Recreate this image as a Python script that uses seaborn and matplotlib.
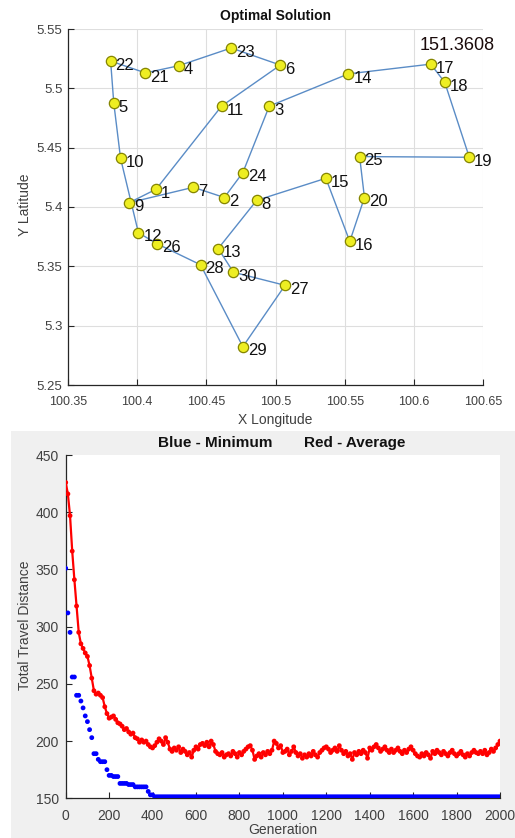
import matplotlib
matplotlib.use("Agg")
import matplotlib.pyplot as plt
from matplotlib.patches import Rectangle
import seaborn as sns
import pandas as pd

# ---------------- data: cities (index = city number 1..30) ----------------
city_ids = list(range(1, 31))
city_lon = [100.4137, 100.4630, 100.4955, 100.4299, 100.3831, 100.5035, 100.4406, 100.4864,
            100.3942, 100.3880, 100.4610, 100.4009, 100.4586, 100.5527, 100.5364, 100.5537,
            100.6122, 100.6223, 100.6401, 100.5643, 100.4060, 100.3808, 100.4680, 100.4764,
            100.5608, 100.4144, 100.5069, 100.4458, 100.4764, 100.4696]
city_lat = [5.4150, 5.4080, 5.4850, 5.5190, 5.4875, 5.5196, 5.4166, 5.4056,
            5.4036, 5.4410, 5.4850, 5.3783, 5.3650, 5.5122, 5.4242, 5.3710,
            5.5204, 5.5052, 5.4419, 5.4080, 5.5130, 5.5230, 5.5340, 5.4290,
            5.4425, 5.3690, 5.3340, 5.3513, 5.2823, 5.3450]
tour_order = [22, 21, 4, 23, 6, 11, 1, 9, 7, 2, 24, 3, 14, 17, 18, 19, 25, 20, 16, 15,
              8, 13, 30, 27, 29, 28, 26, 12, 10, 5, 22]
best_distance_label = "151.3608"

x_ticks = [100.35, 100.4, 100.45, 100.5, 100.55, 100.6, 100.65]
x_tick_labels = ["100.35", "100.4", "100.45", "100.5", "100.55", "100.6", "100.65"]
y_ticks = [5.25, 5.3, 5.35, 5.4, 5.45, 5.5, 5.55]
y_tick_labels = ["5.25", "5.3", "5.35", "5.4", "5.45", "5.5", "5.55"]

# ---------------- data: convergence (every 10 generations) ----------------
generations = list(range(0, 2001, 10))
avg_distance = [
    426, 416, 397, 366, 341, 318, 295, 285, 281, 277,
    274, 266, 255, 244, 241, 242, 240, 238, 230, 224,
    220, 221, 222, 219, 216, 215, 213, 210, 211, 208,
    206, 207, 203, 202, 199, 201, 199, 200, 197, 195,
    194, 196, 199, 202, 200, 197, 203, 199, 193, 191,
    194, 192, 195, 190, 193, 191, 188, 190, 186, 192,
    195, 193, 197, 198, 196, 199, 195, 200, 197, 191,
    189, 188, 190, 186, 188, 189, 187, 191, 189, 186,
    190, 188, 191, 193, 195, 196, 192, 184, 187, 189,
    186, 190, 188, 191, 189, 192, 200, 198, 194, 196,
    190, 191, 193, 188, 191, 195, 190, 187, 189, 185,
    188, 186, 189, 187, 191, 188, 186, 190, 192, 194,
    195, 193, 190, 192, 194, 191, 196, 192, 189, 191,
    187, 189, 184, 190, 188, 191, 189, 192, 190, 185,
    194, 192, 195, 197, 194, 191, 193, 195, 192, 190,
    193, 190, 192, 194, 191, 189, 192, 190, 193, 195,
    192, 189, 187, 186, 189, 187, 190, 188, 185, 191,
    189, 192, 190, 188, 191, 189, 187, 190, 192, 189,
    187, 189, 191, 188, 186, 189, 187, 190, 192, 190,
    189, 191, 189, 192, 188, 190, 193, 191, 194, 197,
    200]
min_distance = [
    351, 312, 295, 256, 256, 240, 240, 235, 229, 222,
    217, 210, 203, 189, 189, 184, 182, 182, 182, 175,
    170, 170, 169, 169, 169, 163, 163, 163, 163, 162,
    162, 162, 160, 160, 160, 160, 160, 160, 156, 153,
    153, 151.36, 151.36, 151.36, 151.36, 151.36, 151.36, 151.36, 151.36, 151.36,
    151.36, 151.36, 151.36, 151.36, 151.36, 151.36, 151.36, 151.36, 151.36, 151.36,
    151.36, 151.36, 151.36, 151.36, 151.36, 151.36, 151.36, 151.36, 151.36, 151.36,
    151.36, 151.36, 151.36, 151.36, 151.36, 151.36, 151.36, 151.36, 151.36, 151.36,
    151.36, 151.36, 151.36, 151.36, 151.36, 151.36, 151.36, 151.36, 151.36, 151.36,
    151.36, 151.36, 151.36, 151.36, 151.36, 151.36, 151.36, 151.36, 151.36, 151.36,
    151.36, 151.36, 151.36, 151.36, 151.36, 151.36, 151.36, 151.36, 151.36, 151.36,
    151.36, 151.36, 151.36, 151.36, 151.36, 151.36, 151.36, 151.36, 151.36, 151.36,
    151.36, 151.36, 151.36, 151.36, 151.36, 151.36, 151.36, 151.36, 151.36, 151.36,
    151.36, 151.36, 151.36, 151.36, 151.36, 151.36, 151.36, 151.36, 151.36, 151.36,
    151.36, 151.36, 151.36, 151.36, 151.36, 151.36, 151.36, 151.36, 151.36, 151.36,
    151.36, 151.36, 151.36, 151.36, 151.36, 151.36, 151.36, 151.36, 151.36, 151.36,
    151.36, 151.36, 151.36, 151.36, 151.36, 151.36, 151.36, 151.36, 151.36, 151.36,
    151.36, 151.36, 151.36, 151.36, 151.36, 151.36, 151.36, 151.36, 151.36, 151.36,
    151.36, 151.36, 151.36, 151.36, 151.36, 151.36, 151.36, 151.36, 151.36, 151.36,
    151.36, 151.36, 151.36, 151.36, 151.36, 151.36, 151.36, 151.36, 151.36, 151.36,
    151.36]
gen_ticks = [0, 200, 400, 600, 800, 1000, 1200, 1400, 1600, 1800, 2000]
dist_ticks = [150, 200, 250, 300, 350, 400, 450]

# ---------------- style ----------------
sns.set_style("ticks")
plt.rcParams["font.family"] = ["Liberation Sans", "DejaVu Sans"]

W, H = 515, 838
fig = plt.figure(figsize=(W / 100, H / 100), dpi=100)
fig.patch.set_facecolor("white")
fig.patches.append(Rectangle((11 / W, 0), 1 - 11 / W, 1 - 431 / H, transform=fig.transFigure,
                             facecolor="#f0f0f0", edgecolor="none", zorder=-10))

def px_axes(l, t, r, b):
    return fig.add_axes([l / W, 1 - b / H, (r - l) / W, (b - t) / H])

axis_col = "#262626"
tick_col = "#404040"

# ---------------- top: optimal tour ----------------
ax1 = px_axes(68, 29, 483, 385)
cities = pd.DataFrame({"id": city_ids, "lon": city_lon, "lat": city_lat}).set_index("id")
tour = cities.loc[tour_order].reset_index()
sns.lineplot(data=tour, x="lon", y="lat", sort=False, estimator=None, ax=ax1,
             color="#5a8cc6", linewidth=1.0, zorder=2)
sns.scatterplot(data=cities.reset_index(), x="lon", y="lat", ax=ax1, s=55,
                color="#eeee22", edgecolor="#858500", linewidth=0.9, zorder=3)
for cid, row in cities.iterrows():
    ax1.annotate(str(cid), (row["lon"], row["lat"]), xytext=(3.5, -3), textcoords="offset points",
                 fontsize=12, color="#111111", va="center", ha="left", zorder=4)
ax1.text(100.6315, 5.5365, best_distance_label, fontsize=13, color="#1a0a0a",
         ha="center", va="center")
ax1.set_xlim(x_ticks[0], x_ticks[-1])
ax1.set_ylim(y_ticks[0], y_ticks[-1])
ax1.set_xticks(x_ticks)
ax1.set_xticklabels(x_tick_labels)
ax1.set_yticks(y_ticks)
ax1.set_yticklabels(y_tick_labels)
ax1.grid(True, color="#dedede", linewidth=0.8)
ax1.set_axisbelow(True)
ax1.set_xlabel("")
ax1.set_ylabel("")
for s in ["top", "right"]:
    ax1.spines[s].set_visible(False)
for s in ["left", "bottom"]:
    ax1.spines[s].set_color(axis_col)
    ax1.spines[s].set_linewidth(0.9)
ax1.tick_params(direction="in", length=4, width=0.8, colors=axis_col, labelcolor=tick_col,
                labelsize=9.5)
ax1.tick_params(axis="x", pad=8, labelsize=9)
ax1.tick_params(axis="y", pad=4)
fig.text(275.5 / W, 1 - 16 / H, "Optimal Solution", ha="center", va="center",
         fontsize=10, fontweight="bold", color="#111111")
fig.text(275.5 / W, 1 - 420 / H, "X Longitude", ha="center", va="center",
         fontsize=10, color=tick_col)
fig.text(25 / W, 1 - 205 / H, "Y Latitude", ha="center", va="center", rotation=90,
         fontsize=10, color=tick_col)

# ---------------- bottom: convergence ----------------
ax2 = px_axes(65.7, 455, 500, 798.3)
ax2.set_facecolor("white")
conv = pd.DataFrame({"gen": generations, "avg": avg_distance, "min": min_distance})
sns.lineplot(data=conv, x="gen", y="avg", ax=ax2, color="#ff0000", linewidth=1.6,
             estimator=None, zorder=3)
sns.scatterplot(data=conv, x="gen", y="avg", ax=ax2, color="#ff0000", s=12,
                edgecolor="none", marker="o", zorder=3)
sns.scatterplot(data=conv, x="gen", y="min", ax=ax2, color="#0000ff", s=12,
                edgecolor="none", marker="o", zorder=4)
ax2.set_xlim(0, 2000)
ax2.set_ylim(150, 450)
ax2.set_xticks(gen_ticks)
ax2.set_yticks(dist_ticks)
ax2.set_xlabel("")
ax2.set_ylabel("")
for s in ["top", "right"]:
    ax2.spines[s].set_visible(False)
for s in ["left", "bottom"]:
    ax2.spines[s].set_color(axis_col)
    ax2.spines[s].set_linewidth(0.9)
ax2.tick_params(direction="in", length=4, width=0.8, colors=axis_col, labelcolor=tick_col,
                labelsize=10)
ax2.tick_params(axis="x", pad=8)
ax2.tick_params(axis="y", pad=5)
fig.text(215 / W, 1 - 443 / H, "Blue - Minimum", ha="center", va="center",
         fontsize=11, fontweight="bold", color="#111111")
fig.text(354.5 / W, 1 - 443 / H, "Red - Average", ha="center", va="center",
         fontsize=11, fontweight="bold", color="#111111")
fig.text(283 / W, 1 - 830 / H, "Generation", ha="center", va="center",
         fontsize=10, color=tick_col)
fig.text(25 / W, 1 - 625 / H, "Total Travel Distance", ha="center", va="center",
         rotation=90, fontsize=10, color=tick_col)

fig.savefig("out.png", dpi=100)
